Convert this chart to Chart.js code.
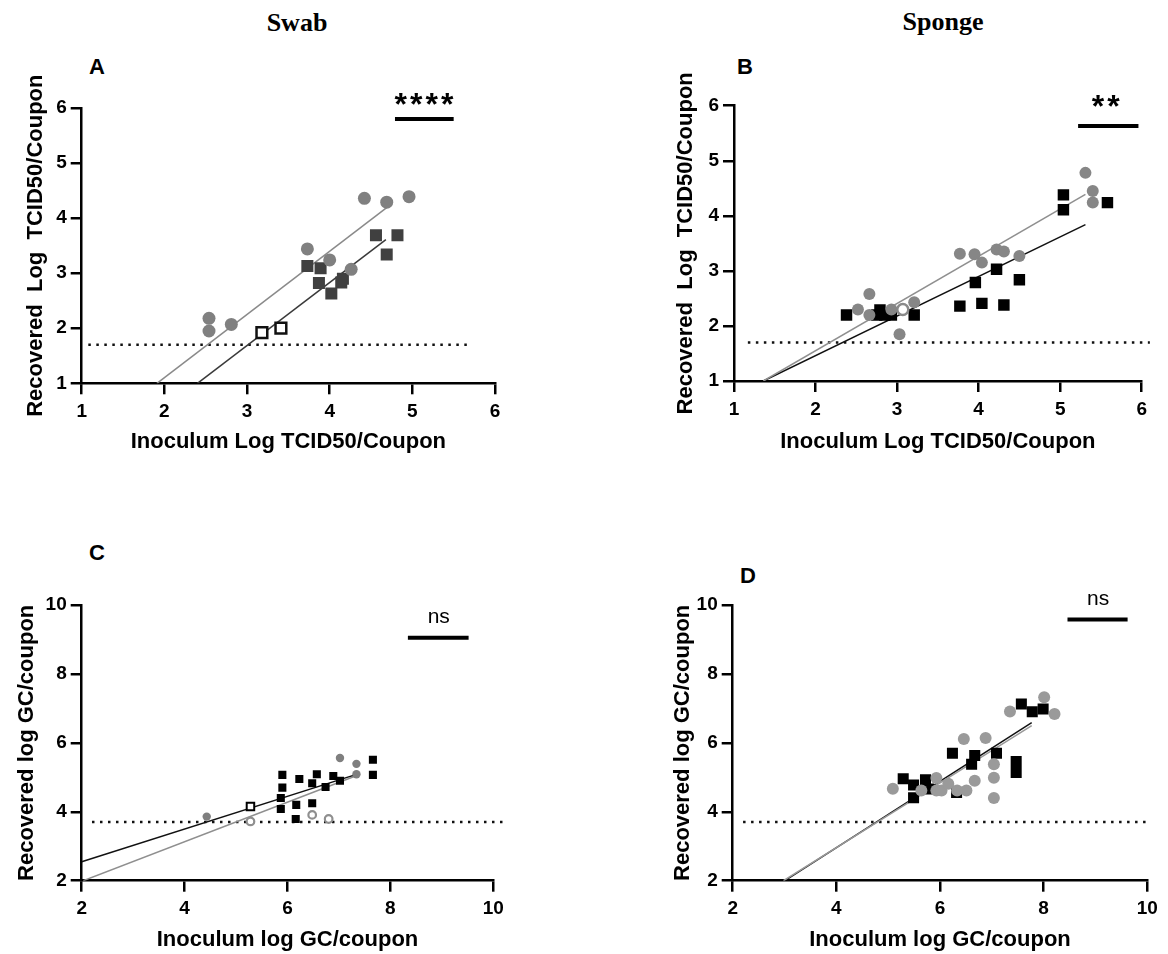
<!DOCTYPE html>
<html><head><meta charset="utf-8">
<script src="https://cdn.jsdelivr.net/npm/chart.js@4/dist/chart.umd.min.js"></script>
<style>
body{margin:0;width:1168px;height:954px;background:#fff;position:relative;overflow:hidden;font-family:'Liberation Sans',Arial,sans-serif}
canvas{position:absolute}
.t{position:absolute;transform:translate(-50%,-50%);white-space:nowrap;color:#000;line-height:1}
.col{font:bold 26px 'Liberation Serif','Times New Roman',serif}
.let{font:bold 22px 'Liberation Sans',Arial,sans-serif}
</style></head><body>
<div class="t col" style="left:297px;top:23px">Swab</div>
<div class="t col" style="left:943px;top:22px">Sponge</div>
<div class="t let" style="left:97px;top:67px">A</div>
<div class="t let" style="left:745px;top:67px">B</div>
<div class="t let" style="left:97px;top:553px">C</div>
<div class="t let" style="left:748px;top:576px">D</div>
<canvas id="cA" width="580" height="430" style="left:0;top:40px"></canvas>
<canvas id="cB" width="588" height="430" style="left:580px;top:40px"></canvas>
<canvas id="cC" width="580" height="434" style="left:0;top:520px"></canvas>
<canvas id="cD" width="588" height="434" style="left:580px;top:520px"></canvas>
<script>
// ---------- Panel A : Swab, infectivity ----------
const aCircX = [2.54,2.54,2.81,3.73,4.00,4.26,4.42,4.69,4.96];
const aCircY = [2.18,1.95,2.07,3.44,3.24,3.07,4.36,4.29,4.39];
const aSqX = [3.73,3.89,3.87,4.02,4.14,4.16,4.56,4.69,4.82];
const aSqY = [3.13,3.09,2.82,2.63,2.83,2.90,3.69,3.34,3.69];
const aOpenSqX = [3.18,3.41];
const aOpenSqY = [1.92,2.00];
const aCircFitX = [1.91,4.69], aCircFitY = [1,4.19];
const aSqFitX = [2.40,4.68], aSqFitY = [1,3.61];
const aLodX = [1.08,5.70], aLodY = [1.7,1.7];
const aSigX = [4.79,5.50], aSigY = [5.80,5.80];
const aSigLabel = '****', aSigLabelX = 5.14, aSigLabelY = 6.13;

// ---------- Panel B : Sponge, infectivity ----------
const bCircX = [2.52,2.66,2.66,2.93,3.21,3.03,3.77,3.95,4.04,4.22,4.31,4.50,5.31,5.40,5.40];
const bCircY = [2.30,2.58,2.20,2.30,2.43,1.85,3.31,3.30,3.15,3.39,3.35,3.27,4.78,4.45,4.24];
const bOpenCircX = [3.07], bOpenCircY = [2.30];
const bSqX = [2.38,2.75,2.79,2.85,2.93,3.21,3.77,3.96,4.04,4.22,4.31,4.50,5.04,5.04,5.58];
const bSqY = [2.20,2.20,2.29,2.20,2.20,2.20,2.36,2.79,2.41,3.03,2.38,2.84,4.38,4.11,4.24];
const bCircFitX = [1.36,5.31], bCircFitY = [1,4.39];
const bSqFitX = [1.36,5.31], bSqFitY = [1,3.84];
const bLodX = [1.17,6.10], bLodY = [1.7,1.7];
const bSigX = [5.22,5.96], bSigY = [5.63,5.63];
const bSigLabel = '**', bSigLabelX = 5.56, bSigLabelY = 6.05;

// ---------- Panel C : Swab, genome copies ----------
const cCircX = [4.43,7.02,7.34,7.34];
const cCircY = [3.86,5.56,5.39,5.09];
const cOpenCircX = [5.28,6.48,6.80], cOpenCircY = [3.72,3.91,3.79];
const cOpenSqX = [5.28], cOpenSqY = [4.15];
const cSqX = [5.90,5.90,5.87,5.87,6.23,6.17,6.16,6.48,6.48,6.57,6.74,6.89,7.02,7.66,7.66];
const cSqY = [5.07,4.70,4.40,4.08,4.95,4.20,3.79,4.83,4.25,5.09,4.72,5.04,4.90,5.51,5.07];
const cSqFitX = [2.00,7.31], cSqFitY = [2.55,5.07];
const cCircFitX = [2.03,7.31], cCircFitY = [2.00,5.03];
const cLodX = [2.2,10.2], cLodY = [3.7,3.7];
const cSigX = [8.34,9.52], cSigY = [9.05,9.05];
const cSigLabel = 'ns', cSigLabelX = 8.94, cSigLabelY = 9.64;

// ---------- Panel D : Sponge, genome copies ----------
const dCircX = [5.09,5.64,5.93,5.93,6.03,6.16,6.33,6.51,6.46,6.67,6.88,7.04,7.04,7.04,7.35,8.01,8.21];
const dCircY = [4.67,4.62,4.98,4.62,4.62,4.81,4.62,4.62,6.11,4.90,6.14,5.38,4.99,4.40,6.91,7.32,6.84];
const dSqX = [5.29,5.49,5.49,5.72,5.78,6.32,6.24,6.61,6.67,7.09,7.47,7.47,7.57,7.78,7.99];
const dSqY = [4.96,4.78,4.41,4.93,4.66,4.56,5.70,5.38,5.63,5.70,5.46,5.14,7.13,6.90,6.98];
const dCircFitX = [2.98,7.77], dCircFitY = [2.00,6.50];
const dSqFitX = [3.06,7.77], dSqFitY = [2.05,6.59];
const dLodX = [2.2,10.0], dLodY = [3.7,3.7];
const dSigX = [8.46,9.62], dSigY = [9.58,9.58];
const dSigLabel = 'ns', dSigLabelX = 9.05, dSigLabelY = 10.16;

// tick / axis labels
const tcidTicks = [1,2,3,4,5,6];
const gcTicks = [2,4,6,8,10];
const xTitleTCID = 'Inoculum Log TCID50/Coupon';
const yTitleTCID = 'Recovered  Log  TCID50/Coupon';
const xTitleGC = 'Inoculum log GC/coupon';
const yTitleGC = 'Recovered log GC/coupon';

const FONT = "'Liberation Sans', Arial, sans-serif";
Chart.defaults.font.family = FONT;
Chart.defaults.font.size = 19;
Chart.defaults.font.weight = 'bold';
Chart.defaults.color = '#000';

const zip = (xs, ys) => xs.map((x, i) => ({x, y: ys[i]}));

function pts(xs, ys, style, r, fill, stroke, bw) {
  return {data: zip(xs, ys), pointStyle: style, pointRadius: r, pointHoverRadius: r,
    backgroundColor: fill, borderColor: stroke, borderWidth: bw, showLine: false, order: 0};
}
function line(xs, ys, color, w, dash, clip) {
  return {data: zip(xs, ys), showLine: true, pointRadius: 0, borderColor: color, borderWidth: w,
    borderDash: dash || [], backgroundColor: color, fill: false, order: 1, clip: clip ? false : undefined};
}

const sigPlugin = {
  id: 'sigText',
  afterDatasetsDraw(chart, args, o) {
    if (!o || !o.text) return;
    const ctx = chart.ctx, xs = chart.scales.x, ys = chart.scales.y;
    const px = xs.getPixelForValue(o.x), py = ys.getPixelForValue(o.y);
    ctx.save();
    ctx.fillStyle = '#000';
    ctx.font = o.font;
    ctx.textAlign = 'center';
    ctx.textBaseline = 'middle';
    if (o.spacing) {
      const n = o.text.length;
      for (let i = 0; i < n; i++) {
        ctx.fillText(o.text[i], px + (i - (n - 1) / 2) * o.spacing, py + (o.dy || 0));
      }
    } else {
      ctx.fillText(o.text, px, py);
    }
    ctx.restore();
  }
};

function makePanel(id, rect, area, yTitleX, xTitleY, xr, yr, xTitle, yTitle, datasets, sig) {
  const lh = 22 * 1.2;
  const yW = area.left - rect.left;
  const xH = rect.top + rect.h - area.bottom;
  const grid = () => ({drawOnChartArea: false, drawTicks: true, tickLength: 11, color: '#000', lineWidth: 2.5});
  const border = () => ({display: true, color: '#000', width: 2.5});
  new Chart(document.getElementById(id), {
    type: 'scatter',
    data: {datasets},
    plugins: [sigPlugin],
    options: {
      responsive: false, animation: false, devicePixelRatio: 1,
      layout: {autoPadding: false, padding: {left: 0, bottom: 0, top: area.top - rect.top, right: rect.left + rect.w - area.right}},
      plugins: {legend: {display: false}, tooltip: {enabled: false}, sigText: sig},
      scales: {
        x: {type: 'linear', min: xr[0], max: xr[xr.length - 1],
          afterBuildTicks: s => { s.ticks = xr.map(v => ({value: v})); },
          ticks: {color: '#000', font: {family: FONT, size: 19, weight: 'bold'}, padding: 6, maxRotation: 0},
          grid: grid(), border: border(),
          title: {display: true, text: xTitle, color: '#000', font: {family: FONT, size: 22, weight: 'bold'},
            padding: {top: 0, bottom: rect.top + rect.h - xTitleY - lh / 2}},
          afterFit: s => { s.height = xH; }},
        y: {type: 'linear', min: yr[0], max: yr[yr.length - 1],
          afterBuildTicks: s => { s.ticks = yr.map(v => ({value: v})); },
          ticks: {color: '#000', font: {family: FONT, size: 19, weight: 'bold'}, padding: 4},
          grid: grid(), border: border(),
          title: {display: true, text: yTitle, color: '#000', font: {family: FONT, size: 22, weight: 'bold'},
            padding: {top: yTitleX - rect.left - lh / 2, bottom: 0}},
          afterFit: s => { s.width = yW; }}
      }
    }
  });
}

const dots = [2.5, 5.5];

makePanel('cA', {left: 0, top: 40, w: 580, h: 430}, {left: 81.7, top: 108, right: 495, bottom: 383.3},
  36, 442, tcidTicks, tcidTicks, xTitleTCID, yTitleTCID, [
    pts(aCircX, aCircY, 'circle', 6.5, '#808080', '#808080', 0),
    pts(aSqX, aSqY, 'rect', 8.5, '#404040', '#404040', 0),
    pts(aOpenSqX, aOpenSqY, 'rect', 7.6, '#ffffff', '#111111', 2.5),
    line(aCircFitX, aCircFitY, '#8a8a8a', 1.5),
    line(aSqFitX, aSqFitY, '#3a3a3a', 1.5),
    line(aLodX, aLodY, '#111', 2.5, dots, true),
    line(aSigX, aSigY, '#000', 4, null, true)
  ], {text: aSigLabel, x: aSigLabelX, y: aSigLabelY, font: 'bold 32px ' + FONT, spacing: 15.5, dy: 5});

makePanel('cB', {left: 580, top: 40, w: 588, h: 430}, {left: 734, top: 105.7, right: 1141.7, bottom: 381},
  686, 442, tcidTicks, tcidTicks, xTitleTCID, yTitleTCID, [
    pts(bCircX, bCircY, 'circle', 6, '#868686', '#868686', 0),
    pts(bOpenCircX, bOpenCircY, 'circle', 5.5, '#ffffff', '#8a8a8a', 2.5),
    pts(bSqX, bSqY, 'rect', 8.1, '#000000', '#000000', 0),
    line(bCircFitX, bCircFitY, '#8f8f8f', 1.5),
    line(bSqFitX, bSqFitY, '#111111', 1.5),
    line(bLodX, bLodY, '#111', 2.5, dots, true),
    line(bSigX, bSigY, '#000', 4, null, true)
  ], {text: bSigLabel, x: bSigLabelX, y: bSigLabelY, font: 'bold 32px ' + FONT, spacing: 15.5, dy: 5});

makePanel('cC', {left: 0, top: 520, w: 580, h: 434}, {left: 81.7, top: 605, right: 493.3, bottom: 880.7},
  27, 940, gcTicks, gcTicks, xTitleGC, yTitleGC, [
    pts(cCircX, cCircY, 'circle', 4.2, '#7f7f7f', '#7f7f7f', 0),
    pts(cOpenCircX, cOpenCircY, 'circle', 3.8, '#ffffff', '#8f8f8f', 2.2),
    pts(cOpenSqX, cOpenSqY, 'rect', 5.3, '#ffffff', '#000000', 2),
    pts(cSqX, cSqY, 'rect', 5.7, '#000000', '#000000', 0),
    line(cSqFitX, cSqFitY, '#111111', 1.5),
    line(cCircFitX, cCircFitY, '#8f8f8f', 1.5),
    line(cLodX, cLodY, '#111', 2.5, dots, true),
    line(cSigX, cSigY, '#000', 4, null, true)
  ], {text: cSigLabel, x: cSigLabelX, y: cSigLabelY, font: 'normal 21px ' + FONT});

makePanel('cD', {left: 580, top: 520, w: 588, h: 434}, {left: 732.7, top: 605, right: 1147.3, bottom: 880.7},
  683, 940, gcTicks, gcTicks, xTitleGC, yTitleGC, [
    pts(dCircX, dCircY, 'circle', 6, '#9a9a9a', '#9a9a9a', 0),
    pts(dSqX, dSqY, 'rect', 7.8, '#000000', '#000000', 0),
    line(dCircFitX, dCircFitY, '#999999', 1.5),
    line(dSqFitX, dSqFitY, '#111111', 1.5),
    line(dLodX, dLodY, '#111', 2.5, dots, true),
    line(dSigX, dSigY, '#000', 4, null, true)
  ], {text: dSigLabel, x: dSigLabelX, y: dSigLabelY, font: 'normal 21px ' + FONT});
</script>
</body></html>
